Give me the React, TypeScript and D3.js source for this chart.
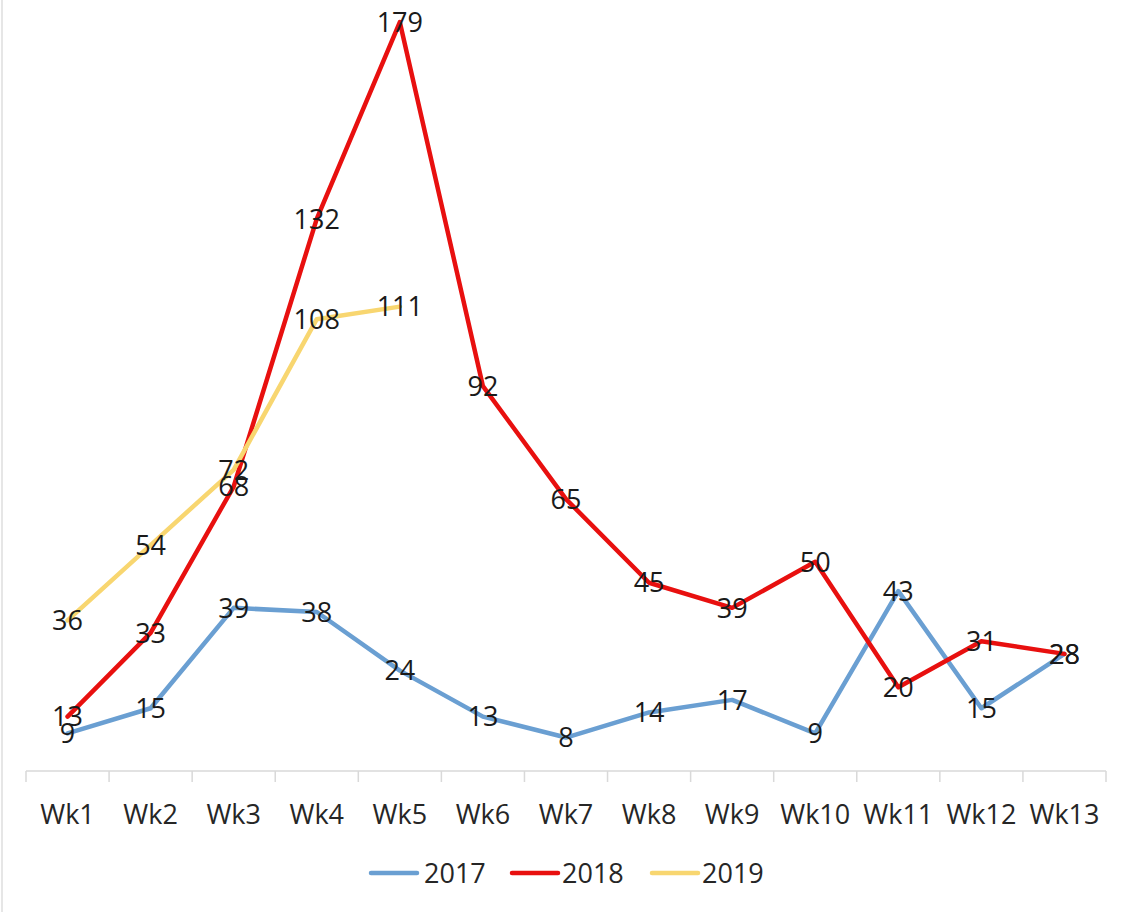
import React from 'react';
import * as d3 from 'd3';

const weeks = ['Wk1', 'Wk2', 'Wk3', 'Wk4', 'Wk5', 'Wk6', 'Wk7', 'Wk8', 'Wk9', 'Wk10', 'Wk11', 'Wk12', 'Wk13'];
const values2017 = [9, 15, 39, 38, 24, 13, 8, 14, 17, 9, 43, 15, 28];
const values2018 = [13, 33, 68, 132, 179, 92, 65, 45, 39, 50, 20, 31, 28];
const values2019 = [36, 54, 72, 108, 111];

const seriesNames = ['2017', '2018', '2019'];
const seriesColors = ['#6a9fd2', '#e8100f', '#f8d670'];

const W = 1126;
const H = 912;
const FONT = '"Open Sans", "DejaVu Sans", sans-serif';

const App: React.FC = () => {
  const x = d3.scaleBand<string>().domain(weeks).range([26, 1106]).padding(0);
  const y = d3.scaleLinear().domain([0, 180]).range([771, 18]);
  const cx = (w: string) => (x(w) || 0) + x.bandwidth() / 2;

  const series = [values2017, values2018, values2019].map((vals, i) => ({
    name: seriesNames[i],
    color: seriesColors[i],
    points: vals.map((v, j) => ({ week: weeks[j], value: v })),
  }));

  const line = d3
    .line<{ week: string; value: number }>()
    .x(d => cx(d.week))
    .y(d => y(d.value));

  const tickXs = [...weeks.map(w => x(w) || 0), x.range()[1]];

  // legend layout
  const legendItems = [
    { lx: 371, tx: 424 },
    { lx: 512, tx: 562 },
    { lx: 652, tx: 702 },
  ];

  return (
    <div style={{ position: 'absolute', left: 0, top: 0 }}>
      <svg width={W} height={H} style={{ display: 'block', background: '#fff' }}>
        <line x1={2} x2={2} y1={0} y2={H} stroke="#e6e6e6" strokeWidth={2} />

        {/* axis */}
        <line x1={x.range()[0]} x2={x.range()[1]} y1={y(0)} y2={y(0)} stroke="#d9d9d9" strokeWidth={1.5} />
        {tickXs.map((tx, i) => (
          <line key={i} x1={tx} x2={tx} y1={y(0)} y2={y(0) + 11} stroke="#d9d9d9" strokeWidth={1.5} />
        ))}
        {weeks.map(w => (
          <text
            key={w}
            x={cx(w)}
            y={824}
            textAnchor="middle"
            fontFamily={FONT}
            fontSize={27}
            fill="#262626"
          >
            {w}
          </text>
        ))}

        {/* lines */}
        {series.map(s => (
          <path
            key={s.name}
            d={line(s.points) || ''}
            fill="none"
            stroke={s.color}
            strokeWidth={4.5}
            strokeLinejoin="round"
            strokeLinecap="round"
          />
        ))}

        {/* data labels */}
        {series.map(s =>
          s.points.map(p => (
            <text
              key={s.name + p.week}
              x={cx(p.week)}
              y={y(p.value)}
              dy="0.36em"
              textAnchor="middle"
              fontFamily={FONT}
              fontSize={27}
              fill="#1a1a1a"
            >
              {p.value}
            </text>
          ))
        )}

        {/* legend */}
        {series.map((s, i) => (
          <g key={s.name}>
            <line
              x1={legendItems[i].lx}
              x2={legendItems[i].lx + 46}
              y1={873}
              y2={873}
              stroke={s.color}
              strokeWidth={4.5}
              strokeLinecap="round"
            />
            <text
              x={legendItems[i].tx}
              y={873}
              dy="0.36em"
              fontFamily={FONT}
              fontSize={27}
              fill="#262626"
            >
              {s.name}
            </text>
          </g>
        ))}
      </svg>
    </div>
  );
};

export default App;
